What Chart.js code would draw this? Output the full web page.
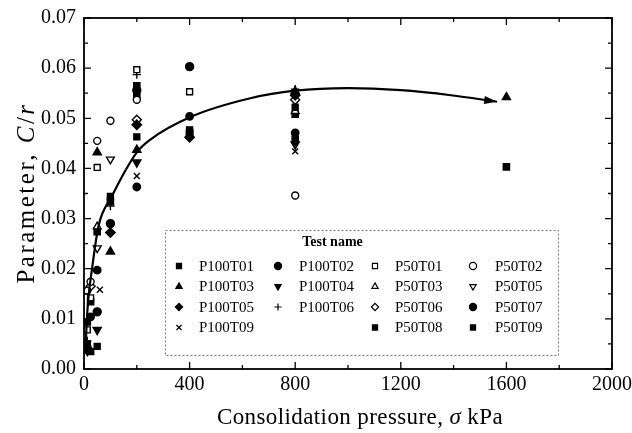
<!DOCTYPE html>
<html>
<head>
<meta charset="utf-8">
<script src="https://cdn.jsdelivr.net/npm/chart.js@4.4.1/dist/chart.umd.min.js"></script>
<style>
  html, body { margin: 0; padding: 0; background: #fff; }
  #wrap { width: 632px; height: 433px; }
</style>
</head>
<body>
<div id="wrap"><canvas id="chart" width="632" height="433"></canvas></div>
<script>
// Consolidation pressure (kPa) vs C/r, one [pressure, value] list per test
const P100T01 = [[12.5, 0.0050], [50, 0.0045], [100, 0.0344], [200, 0.0463], [400, 0.0477], [800, 0.0522]];
const P100T02 = [[12.5, 0.0044], [25, 0.0104], [50, 0.0197], [200, 0.0363], [400, 0.0504], [800, 0.0471]];
const P50T01 = [[12.5, 0.0078], [25, 0.0142], [50, 0.0402], [200, 0.0597], [400, 0.0553]];
const P50T02 = [[12.5, 0.0156], [25, 0.0174], [50, 0.0455], [100, 0.0495], [200, 0.0537], [800, 0.0346]];
const P100T03 = [[6.25, 0.0053], [50, 0.0432], [100, 0.0234], [200, 0.0437], [800, 0.0554], [1600, 0.0542]];
const P100T04 = [[12.5, 0.0036], [50, 0.0078], [200, 0.0412], [800, 0.0448]];
const P50T03 = [[50, 0.0284], [800, 0.0514]];
const P50T05 = [[50, 0.0241], [100, 0.0418]];
const P100T05 = [[12.5, 0.0040], [100, 0.0272], [200, 0.0487], [400, 0.0462], [800, 0.0546]];
const P100T06 = [[12.5, 0.0056], [100, 0.0325], [200, 0.0587], [800, 0.0558]];
const P50T06 = [[25, 0.0165], [200, 0.0497], [800, 0.0537]];
const P50T07 = [[50, 0.0114], [100, 0.0290], [200, 0.0556], [400, 0.0603]];
const P100T09 = [[60, 0.0158], [200, 0.0385], [800, 0.0434]];
const P50T08 = [[25, 0.0035], [100, 0.0334], [200, 0.0565], [400, 0.0468], [800, 0.0458], [1600, 0.0403]];
const P50T09 = [[12.5, 0.0094], [25, 0.0134], [50, 0.0274], [200, 0.0547], [400, 0.0472], [800, 0.0508]];

// fitted trend line (ends in an arrow)
const fitCurve = [[5, 0.0030], [10, 0.0090], [16, 0.0138], [30, 0.0198], [55, 0.0285], [105, 0.0344],
  [200, 0.0432], [250, 0.0457], [405, 0.0503], [630, 0.0540], [800, 0.0555], [1000, 0.0560],
  [1200, 0.0556], [1390, 0.0546], [1565, 0.0533]];

const xTicks = [0, 400, 800, 1200, 1600, 2000];
const yTicks = [0, 0.01, 0.02, 0.03, 0.04, 0.05, 0.06, 0.07];

// legend grid, row by row (null = empty cell)
const legendOrder = ['P100T01', 'P100T02', 'P50T01', 'P50T02',
  'P100T03', 'P100T04', 'P50T03', 'P50T05',
  'P100T05', 'P100T06', 'P50T06', 'P50T07',
  'P100T09', null, 'P50T08', 'P50T09'];

const SERIF = '"Liberation Serif", "Times New Roman", serif';

const markerStyles = {
  P100T01: { pointStyle: 'rect', filled: true, radius: 4.2 },
  P100T02: { pointStyle: 'circle', filled: true, radius: 3.7 },
  P50T01: { pointStyle: 'rect', filled: false, radius: 4.2 },
  P50T02: { pointStyle: 'circle', filled: false, radius: 3.5 },
  P100T03: { pointStyle: 'triangle', filled: true, radius: 4.7 },
  P100T04: { pointStyle: 'triangle', filled: true, radius: 4.7, rotation: 180 },
  P50T03: { pointStyle: 'triangle', filled: false, radius: 4.5 },
  P50T05: { pointStyle: 'triangle', filled: false, radius: 4.5, rotation: 180 },
  P100T05: { pointStyle: 'rectRot', filled: true, radius: 4.7 },
  P100T06: { pointStyle: 'cross', filled: false, radius: 4.2 },
  P50T06: { pointStyle: 'rectRot', filled: false, radius: 4.5 },
  P50T07: { pointStyle: 'circle', filled: true, radius: 4 },
  P100T09: { pointStyle: 'crossRot', filled: false, radius: 4.2 },
  P50T08: { pointStyle: 'rect', filled: true, radius: 4.4 },
  P50T09: { pointStyle: 'rect', filled: true, radius: 4.4 }
};

const seriesData = { P100T01, P100T02, P50T01, P50T02, P100T03, P100T04, P50T03, P50T05,
  P100T05, P100T06, P50T06, P50T07, P100T09, P50T08, P50T09 };

function toPoints(list) {
  return list.map(p => ({ x: p[0], y: p[1] }));
}

function buildDatasets() {
  const sets = [{
    label: 'fit',
    isFit: true,
    type: 'line',
    data: toPoints(fitCurve),
    borderColor: '#000',
    borderWidth: 2.2,
    pointRadius: 0,
    showLine: true,
    fill: false,
    cubicInterpolationMode: 'monotone'
  }];
  Object.keys(seriesData).forEach(name => {
    const m = markerStyles[name];
    sets.push({
      label: name,
      data: toPoints(seriesData[name]),
      pointStyle: m.pointStyle,
      pointRotation: m.rotation || 0,
      pointRadius: m.radius,
      pointBorderWidth: 1.4,
      pointBackgroundColor: m.filled ? '#000' : '#fff',
      pointBorderColor: '#000',
      showLine: false
    });
  });
  return sets;
}

function halfSteps(ticks) {
  const out = [];
  ticks.forEach((v, i) => {
    out.push({ v, major: true });
    if (i < ticks.length - 1) out.push({ v: (v + ticks[i + 1]) / 2, major: false });
  });
  return out;
}

// box frame with inward ticks on all four sides
const frameTicks = {
  id: 'frameTicks',
  afterDatasetsDraw(chart) {
    const { ctx, chartArea: a, scales: { x, y } } = chart;
    ctx.save();
    ctx.strokeStyle = '#000';
    ctx.lineWidth = 1.8;
    ctx.strokeRect(a.left, a.top, a.right - a.left, a.bottom - a.top);
    ctx.lineWidth = 1.3;
    ctx.beginPath();
    halfSteps(xTicks).forEach(t => {
      const px = x.getPixelForValue(t.v);
      const len = t.major ? 7 : 4;
      ctx.moveTo(px, a.bottom); ctx.lineTo(px, a.bottom - len);
      ctx.moveTo(px, a.top); ctx.lineTo(px, a.top + len);
    });
    halfSteps(yTicks).forEach(t => {
      const py = y.getPixelForValue(t.v);
      const len = t.major ? 7 : 4;
      ctx.moveTo(a.left, py); ctx.lineTo(a.left + len, py);
      ctx.moveTo(a.right, py); ctx.lineTo(a.right - len, py);
    });
    ctx.stroke();
    ctx.restore();
  }
};

// arrow head at the end of the fitted curve
const arrowHead = {
  id: 'arrowHead',
  afterDatasetsDraw(chart) {
    const idx = chart.data.datasets.findIndex(d => d.isFit);
    if (idx < 0) return;
    const pts = chart.getDatasetMeta(idx).data;
    const tip = pts[pts.length - 1];
    let from = pts[pts.length - 2];
    if (tip.cp1x !== undefined && (tip.cp1x !== tip.x || tip.cp1y !== tip.y)) {
      from = { x: tip.cp1x, y: tip.cp1y };
    }
    const ang = Math.atan2(tip.y - from.y, tip.x - from.x);
    const L = 13, W = 4;
    const c = Math.cos(ang), s = Math.sin(ang);
    const ctx = chart.ctx;
    ctx.save();
    ctx.fillStyle = '#000';
    ctx.beginPath();
    ctx.moveTo(tip.x, tip.y);
    ctx.lineTo(tip.x - L * c + W * s, tip.y - L * s - W * c);
    ctx.lineTo(tip.x - L * c - W * s, tip.y - L * s + W * c);
    ctx.closePath();
    ctx.fill();
    ctx.restore();
  }
};

function drawMarker(ctx, m, x, y, r) {
  ctx.save();
  ctx.lineWidth = 1.2;
  ctx.strokeStyle = '#000';
  ctx.fillStyle = m.filled ? '#000' : '#fff';
  if (Chart.helpers && Chart.helpers.drawPoint) {
    Chart.helpers.drawPoint(ctx, { pointStyle: m.pointStyle, rotation: m.rotation || 0, radius: r, borderWidth: 1.2 }, x, y);
  } else {
    ctx.beginPath(); ctx.arc(x, y, r, 0, Math.PI * 2); ctx.fill(); ctx.stroke();
  }
  ctx.restore();
}

// legend drawn as a 4-column grid inside the plot
const gridLegend = {
  id: 'gridLegend',
  afterDraw(chart, args, opts) {
    const ctx = chart.ctx;
    ctx.save();
    ctx.fillStyle = '#fff';
    ctx.fillRect(opts.left, opts.top, opts.width, opts.height);
    ctx.setLineDash([2, 2]);
    ctx.strokeStyle = '#777';
    ctx.lineWidth = 1;
    ctx.strokeRect(opts.left + 0.5, opts.top + 0.5, opts.width, opts.height);
    ctx.setLineDash([]);
    ctx.fillStyle = '#000';
    ctx.textBaseline = 'middle';
    ctx.textAlign = 'center';
    ctx.font = 'bold 14px ' + SERIF;
    ctx.fillText('Test name', opts.left + opts.width / 2 - 29, opts.top + 12);
    ctx.textAlign = 'left';
    ctx.font = '15px ' + SERIF;
    legendOrder.forEach((name, i) => {
      if (!name) return;
      const col = i % 4, row = Math.floor(i / 4);
      const y = opts.top + opts.firstRow + row * opts.rowGap;
      drawMarker(ctx, markerStyles[name], opts.markerX[col], y, 3.6);
      ctx.fillStyle = '#000';
      ctx.fillText(name, opts.textX[col], y + 1);
    });
    ctx.restore();
  }
};

function drawRich(ctx, parts, cx, cy, size, spacing) {
  ctx.letterSpacing = spacing + 'px';
  let total = 0;
  parts.forEach(p => {
    ctx.font = (p.italic ? 'italic ' : '') + size + 'px ' + SERIF;
    p.w = ctx.measureText(p.text).width;
    total += p.w;
  });
  let x = cx - total / 2;
  ctx.textAlign = 'left';
  ctx.textBaseline = 'middle';
  parts.forEach(p => {
    ctx.font = (p.italic ? 'italic ' : '') + size + 'px ' + SERIF;
    ctx.fillText(p.text, x, cy);
    x += p.w;
  });
  ctx.letterSpacing = '0px';
}

// axis titles with italic symbols
const axisTitles = {
  id: 'axisTitles',
  afterDraw(chart) {
    const { ctx } = chart;
    ctx.save();
    ctx.fillStyle = '#000';
    drawRich(ctx, [{ text: 'Consolidation pressure, ' }, { text: '\u03c3', italic: true }, { text: ' kPa' }],
      360, 418, 23, 0.4);
    ctx.translate(27, 193);
    ctx.rotate(-Math.PI / 2);
    drawRich(ctx, [{ text: 'Parameter, ' }, { text: 'C', italic: true }, { text: '/' }, { text: 'r', italic: true }],
      0, 0, 25, 2.5);
    ctx.restore();
  }
};

const ctx = document.getElementById('chart').getContext('2d');
new Chart(ctx, {
  type: 'scatter',
  data: { datasets: buildDatasets() },
  options: {
    responsive: false,
    animation: false,
    events: [],
    layout: { padding: { top: 18, right: 20, left: 0, bottom: 0 } },
    plugins: {
      legend: { display: false },
      tooltip: { enabled: false },
      gridLegend: {
        left: 165, top: 230, width: 393, height: 125,
        firstRow: 36, rowGap: 20.5,
        markerX: [179, 278, 375, 473],
        textX: [199, 299, 395, 495]
      }
    },
    scales: {
      x: {
        type: 'linear',
        min: 0, max: 2000,
        afterBuildTicks: s => { s.ticks = xTicks.map(v => ({ value: v })); },
        afterFit: s => { s.height = 64; s.paddingLeft = 0; s.paddingRight = 0; },
        grid: { display: false, drawTicks: false },
        border: { display: false },
        ticks: { padding: 4, color: '#000', font: { family: SERIF, size: 20 }, maxRotation: 0, callback: v => String(v) }
      },
      y: {
        type: 'linear',
        min: 0, max: 0.07,
        afterBuildTicks: s => { s.ticks = yTicks.map(v => ({ value: v })); },
        afterFit: s => { s.width = 84; s.paddingTop = 0; s.paddingBottom = 0; },
        grid: { display: false, drawTicks: false },
        border: { display: false },
        ticks: { padding: 8, color: '#000', font: { family: SERIF, size: 20 }, callback: v => v.toFixed(2) }
      }
    }
  },
  plugins: [frameTicks, arrowHead, gridLegend, axisTitles]
});
</script>
</body>
</html>
